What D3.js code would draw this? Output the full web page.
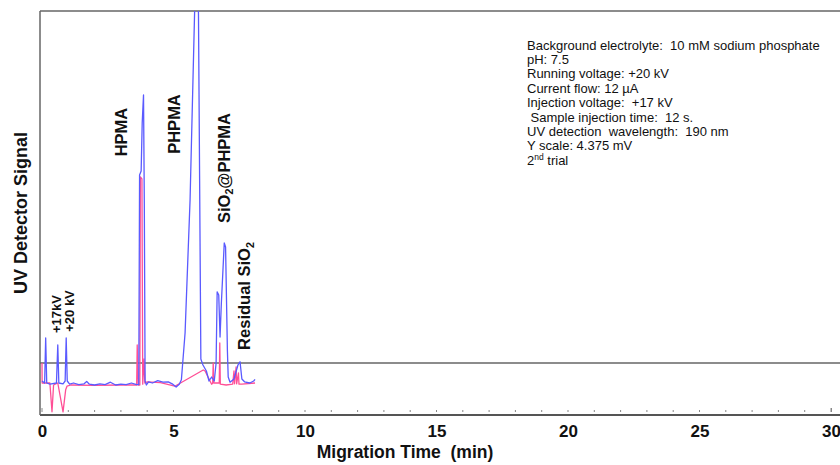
<!DOCTYPE html>
<html><head><meta charset="utf-8">
<script src="https://cdn.jsdelivr.net/npm/d3@7"></script>
<style>body{margin:0;background:#fff}svg{display:block}text{font-family:Arial,"Liberation Sans",sans-serif}</style>
</head><body>
<svg id="c" width="840" height="465"></svg>
<script>
// ---- data ----
const xTicks = [0, 5, 10, 15, 20, 25, 30];
const minorTicks = d3.range(0, 31, 1);
const blueT = [0.00,0.10,0.14,0.18,0.30,0.55,0.60,0.64,0.80,0.88,0.92,0.96,1.05,1.20,1.40,1.60,1.70,1.80,2.00,2.20,2.40,2.60,2.80,3.00,3.20,3.40,3.60,3.68,3.71,3.77,3.81,3.86,3.89,3.92,3.97,4.05,4.20,4.40,4.60,4.80,4.95,5.10,5.22,5.30,5.44,5.63,5.80,5.88,5.95,6.04,6.12,6.25,6.35,6.45,6.55,6.62,6.66,6.72,6.77,6.82,6.93,6.98,7.05,7.08,7.15,7.30,7.45,7.53,7.60,7.70,7.90,8.05,8.10];
const blueV = [0.5,0,11.25,0,-0.3,0,9.5,0,-0.2,0.5,11.25,0.5,-0.3,0,-0.4,-0.2,0.4,-0.3,-0.5,-0.2,-0.4,0.2,-0.5,-0.3,-0.4,0,-0.4,-0.4,52,53,65,72,45,0.5,-0.5,0.3,0,0.6,0.2,0.3,-0.2,-1,-0.3,0.8,12.5,45.75,92,115,92,6,4.5,3,0.5,1.5,0.5,5,22.8,22,11.5,20,35,34,8,1.5,0.2,1,4.5,5.3,1,0.3,0,0.5,0.9];
const pinkT = [0.00,0.005,0.30,0.38,0.44,0.60,0.80,0.90,0.95,1.10,2.00,3.00,3.60,3.62,3.66,3.72,3.74,3.80,3.83,3.88,3.91,4.00,4.50,5.05,6.13,6.20,6.45,6.49,6.51,6.53,6.74,6.76,6.78,7.00,7.25,7.30,7.32,7.38,7.40,7.47,7.49,7.60,8.10];
const pinkV = [5,0,0,-7.2,-0.5,0,-7.2,-1.7,-0.8,-0.5,-0.6,-0.5,-0.5,9.5,-0.5,-0.5,51.5,51,-0.3,6,0,0.3,0.1,-0.8,3.25,3,-0.3,0,5,0,0,10,-0.3,-0.5,-0.3,3,-0.2,4,-0.2,2.5,-0.3,-0.3,0];
const refLevel = 5;
const peakLabels = [
  {text: "HPMA", t: 3.25, y: 132},
  {text: "PHPMA", t: 5.25, y: 124},
  {text: "SiO|2|@PHPMA", t: 7.15, y: 168},
  {text: "Residual SiO|2|", t: 7.92, y: 296}
];
const kvLabels = [{text: "+17kV", t: 0.72, y: 314}, {text: "+20 kV", t: 1.22, y: 311}];
const infoLines = [
  "Background electrolyte:  10 mM sodium phosphate",
  "pH: 7.5",
  "Running voltage: +20 kV",
  "Current flow: 12 \u00b5A",
  "Injection voltage:  +17 kV",
  " Sample injection time:  12 s.",
  "UV detection  wavelength:  190 nm",
  "Y scale: 4.375 mV",
  "2|nd| trial"
];

// ---- chart ----
const svg = d3.select("#c");
const L = 40, T = 11, R = 840, B = 415;
const x = d3.scaleLinear().domain([0, 30]).range([42, 831]);
const y = d3.scaleLinear().domain([-8, 93]).range([B, T]);

svg.append("defs").append("clipPath").attr("id", "clip")
  .append("rect").attr("x", L).attr("y", T).attr("width", R - L).attr("height", B - T);

// frame
const g = svg.append("g");
g.append("line").attr("x1", L).attr("x2", R).attr("y1", T).attr("y2", T).attr("stroke", "#666").attr("stroke-width", 1.5);
g.append("line").attr("x1", L).attr("x2", R).attr("y1", B).attr("y2", B).attr("stroke", "#555").attr("stroke-width", 2);
g.append("line").attr("x1", L).attr("x2", L).attr("y1", T).attr("y2", B).attr("stroke", "#666").attr("stroke-width", 1.5);
g.append("line").attr("x1", L).attr("x2", R).attr("y1", y(refLevel)).attr("y2", y(refLevel)).attr("stroke", "#666").attr("stroke-width", 1.3);

// minor tick dots
g.selectAll(".mt").data(minorTicks).join("rect")
  .attr("x", d => x(d) - 0.5).attr("y", d => d % 30 === 0 ? 408 : 410)
  .attr("width", d => d === 30 ? 1.5 : 1).attr("height", d => d % 30 === 0 ? 4 : 2).attr("fill", "#888");

// x axis labels
const ax = svg.append("g").attr("transform", `translate(0,${B})`)
  .call(d3.axisBottom(x).tickValues(xTicks).tickSize(0).tickPadding(10).tickFormat(d3.format("d")));
ax.select(".domain").remove();
ax.selectAll("text").attr("font-size", 17).attr("font-weight", "bold").attr("fill", "#111")
  .attr("font-family", "Arial, 'Liberation Sans', sans-serif");

svg.append("text").attr("x", 405).attr("y", 458).attr("text-anchor", "middle")
  .attr("font-size", 17.5).attr("font-weight", "bold").attr("fill", "#111")
  .style("white-space", "pre").text("Migration Time  (min)");

svg.append("text").attr("transform", "translate(27,213) rotate(-90)").attr("text-anchor", "middle")
  .attr("font-size", 18).attr("font-weight", "bold").attr("fill", "#111")
  .text("UV Detector Signal");

// traces
const line = d3.line().x(d => x(d[0])).y(d => y(d[1]));
const plot = svg.append("g").attr("clip-path", "url(#clip)");
plot.append("path").datum(d3.zip(pinkT, pinkV)).attr("d", line)
  .attr("fill", "none").attr("stroke", "#ff4f96").attr("stroke-width", 1.3).attr("stroke-linejoin", "round");
plot.append("path").datum(d3.zip(blueT, blueV)).attr("d", line)
  .attr("fill", "none").attr("stroke", "#5a5aff").attr("stroke-width", 1.3).attr("stroke-linejoin", "round");

// rotated labels with subscripts
function rotLabel(d, size) {
  const t = svg.append("text").attr("transform", `translate(${x(d.t)},${d.y}) rotate(-90)`)
    .attr("text-anchor", "middle").attr("font-size", size).attr("font-weight", "bold").attr("fill", "#111");
  d.text.split("|").forEach((part, i) => {
    if (!part) return;
    const s = t.append("tspan").text(part);
    if (i % 2 === 1) s.attr("font-size", size * 0.65).attr("dy", size * 0.2);
    else if (i > 0) s.attr("dy", -size * 0.2);
  });
}
peakLabels.forEach(d => rotLabel(d, 16.5));
kvLabels.forEach(d => rotLabel(d, 13));

// info block
const info = svg.append("g");
infoLines.forEach((ln, i) => {
  const t = info.append("text").attr("x", 527).attr("y", 49.5 + i * 14.4)
    .attr("font-size", 13).attr("fill", "#111").style("white-space", "pre");
  ln.split("|").forEach((part, j) => {
    if (!part) return;
    const s = t.append("tspan").text(part);
    if (j % 2 === 1) s.attr("font-size", 8.5).attr("dy", -4.5);
    else if (j > 0) s.attr("dy", 4.5);
  });
});
</script>
</body></html>
